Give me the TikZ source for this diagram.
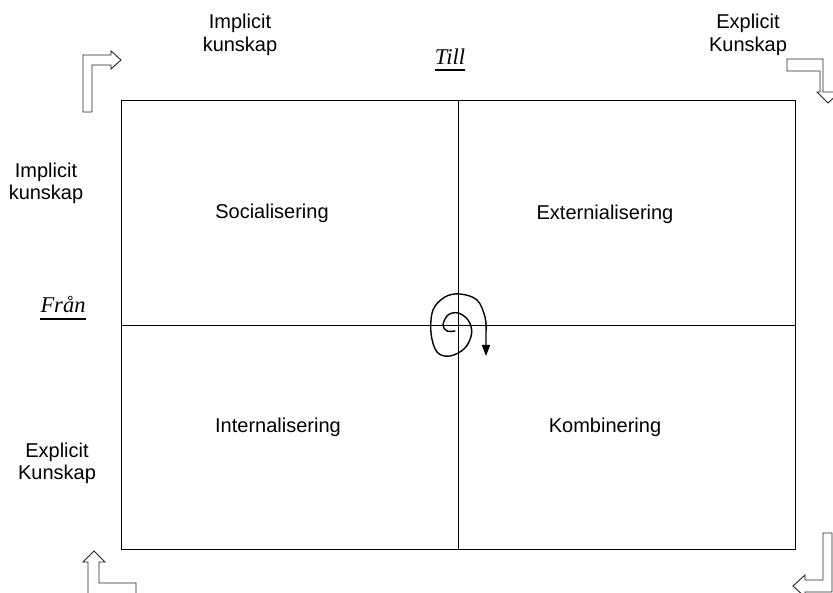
\documentclass[tikz,border=0pt]{standalone}
\usepackage{fontspec}
\setmainfont{Liberation Sans}
\newfontfamily\serifit{Liberation Serif}
\usetikzlibrary{arrows.meta}
\begin{document}
\begin{tikzpicture}[x=1pt,y=-1pt,
  lbl/.style={font=\fontsize{20}{22.5}\selectfont, align=center, anchor=base, inner sep=0pt},
  axislbl/.style={font=\serifit\itshape\fontsize{22.5}{26}\selectfont, anchor=base, inner sep=0pt},
  ruleline/.style={draw=black, line width=1.5pt},
  bentarrow/.style={draw=black!85, line width=0.9pt, fill=white, line join=miter},
  gridline/.style={draw=black, line width=0.9pt},
  spiral/.style={draw=black, line width=1.4pt, line cap=round}]
\useasboundingbox (0,0) rectangle (833,593);

% matrix frame and its two dividers
\coordinate (nw) at (121,100);
\coordinate (se) at (795,549);
\coordinate (tm) at (458,100);
\coordinate (bm) at (458,549);
\coordinate (lm) at (121,325);
\coordinate (rm) at (795,325);
\draw[gridline] (nw) rectangle (se);
\draw[gridline] (tm) -- (bm);
\draw[gridline] (lm) -- (rm);

% quadrant names
\node[lbl] (soc) at (272,219) {Socialisering};
\node[lbl] (ext) at (605,220) {Externialisering};
\node[lbl] (int) at (278,433) {Internalisering};
\node[lbl] (kom) at (605,433) {Kombinering};

% axis headings (base anchor sits on the last line)
\node[lbl] (topL) at (240,51.5) {Implicit\\kunskap};
\node[lbl] (topR) at (748,51.5) {Explicit\\Kunskap};
\node[lbl] (leftT) at (46,200) {Implicit\\kunskap};
\node[lbl] (leftB) at (57,479.5) {Explicit\\Kunskap};
\node[axislbl] (till) at (450,65) {Till};
\node[axislbl] (fran) at (63,313) {Från};
\draw[ruleline] ([yshift=-5pt]till.base west) -- ([yshift=-5pt]till.base east);
\draw[ruleline] ([yshift=-6pt]fran.base west) -- ([yshift=-6pt]fran.base east);

% bent arrows in the four corners
\draw[bentarrow] (83,112) -- (83,55) -- (111,55) -- (111,51) -- (121,60)
  -- (111,69) -- (111,65) -- (92,65) -- (92,112) -- cycle;
\draw[bentarrow] (787,59) -- (823,59) -- (823,92) -- (840,92) -- (828,103)
  -- (817,92) -- (820,92) -- (820,71) -- (787,71) -- cycle;
\draw[bentarrow] (88,600) -- (88,562) -- (83,562) -- (94,551) -- (105,562)
  -- (99,562) -- (99,583) -- (136,583) -- (136,600) -- cycle;
\draw[bentarrow] (823,533) -- (832,533) -- (832,592) -- (805,592) -- (805,597)
  -- (793,586) -- (805,575) -- (805,580) -- (823,580) -- cycle;

% knowledge spiral
\coordinate (spiralEnd) at (486,356);
\draw[spiral, -{Triangle[length=11pt,width=8pt]}]
  plot[smooth, tension=0.6] coordinates {(455,331) (447,331) (443,325) (448,315)
   (458,313) (468,320) (471.7,333) (465,348) (450,356) (437,352) (431,333)
   (433,310) (445,297) (460,294) (477,300) (485,317) (486,332)}
  -- (spiralEnd);
\end{tikzpicture}
\end{document}
